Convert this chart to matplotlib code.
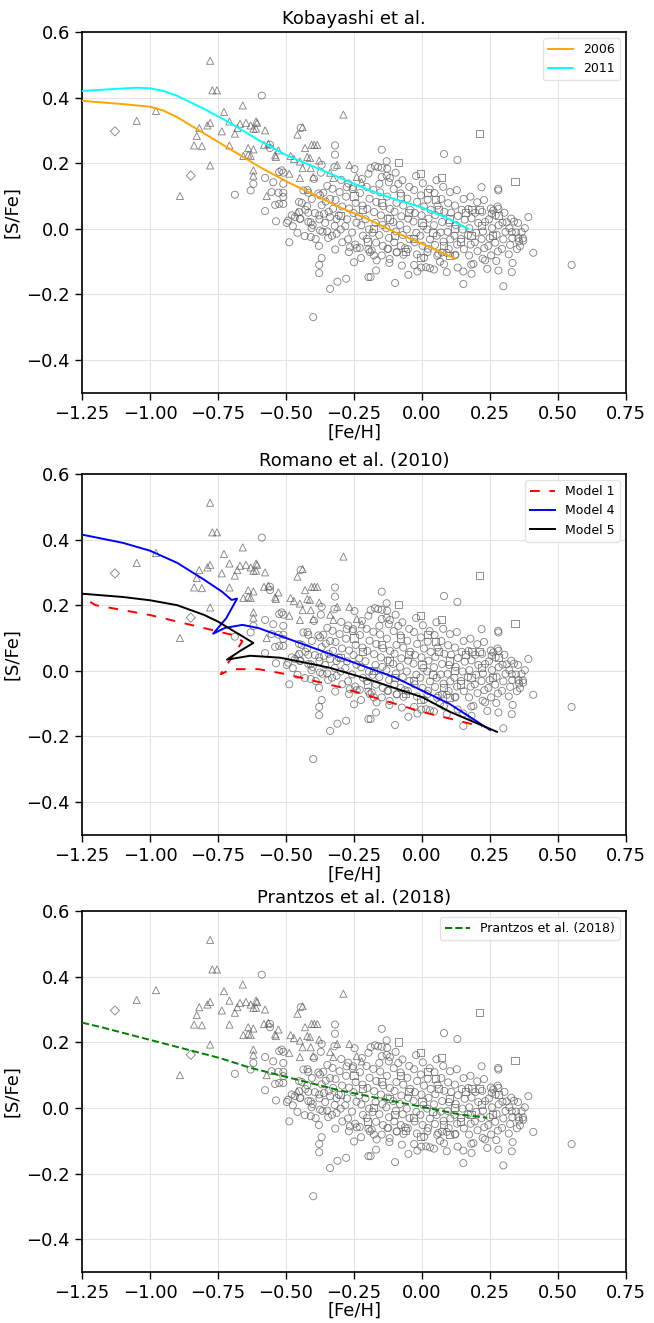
import matplotlib
matplotlib.use("Agg")
import matplotlib.pyplot as plt

# ---------------- data ----------------
triangles_x = [-0.779,-0.771,-0.754,-0.978,-1.049,-0.779,-0.789,-0.819,-0.828,-0.838,-0.809,-0.779,-0.89,-0.659,-0.728,-0.708,-0.669,-0.647,-0.630,-0.610,-0.606,-0.679,-0.620,-0.610,-0.577,-0.736,-0.688,-0.439,-0.458,-0.708,-0.581,-0.565,-0.639,-0.620,-0.528,-0.430,-0.406,-0.396,-0.385,-0.657,-0.639,-0.630,-0.540,-0.537,-0.483,-0.471,-0.422,-0.412,-0.449,-0.439,-0.409,-0.378,-0.312,-0.620,-0.620,-0.488,-0.449,-0.400,-0.338,-0.326,-0.289,-0.267,-0.240,-0.222,-0.571,-0.459]
triangles_y = [0.512,0.422,0.422,0.359,0.329,0.323,0.315,0.307,0.283,0.254,0.252,0.193,0.10,0.376,0.356,0.327,0.320,0.323,0.315,0.327,0.323,0.307,0.305,0.305,0.300,0.297,0.290,0.310,0.287,0.254,0.256,0.259,0.246,0.242,0.239,0.246,0.256,0.256,0.256,0.222,0.226,0.222,0.224,0.219,0.222,0.213,0.219,0.216,0.205,0.185,0.185,0.208,0.195,0.178,0.162,0.168,0.155,0.158,0.171,0.155,0.348,0.195,0.158,0.142,0.100,0.051]

diamonds_x = [-1.129, -0.850]
diamonds_y = [0.297, 0.162]

squares_x = [-0.087,-0.007,0.072,0.211,0.342,-0.007,0.182,0.211,0.281,-0.30,-0.25,-0.22,-0.18,-0.15,-0.12,-0.10,-0.08,-0.05,-0.03,0.0,0.02,0.04,0.06,0.08,0.10,0.12,0.14,0.16,0.18,0.22,0.26,0.10,-0.20,0.05,-0.06]
squares_y = [0.201,0.168,0.155,0.290,0.144,-0.086,0.059,0.059,0.041,0.04,0.10,0.06,0.0,0.08,0.03,-0.02,0.10,0.05,-0.03,0.02,0.11,-0.01,0.06,-0.05,0.03,0.0,-0.04,0.05,-0.02,0.01,-0.02,-0.08,-0.04,0.09,-0.07]

circles_sparse = [(-0.589,0.406),(-0.446,0.307),(-0.559,0.256),(-0.320,0.254),(-0.559,0.246),(-0.320,0.226),(-0.369,0.195),(-0.525,0.173),(-0.516,0.178),(-0.510,0.171),(-0.577,0.155),(-0.620,0.137),(-0.547,0.142),(-0.510,0.137),(-0.148,0.241),(0.081,0.228),(0.130,0.210),(-0.130,0.206),(-0.189,0.185),(-0.161,0.188),(-0.148,0.186),(-0.128,0.183),(-0.130,0.162),(-0.118,0.155),(-0.087,0.137),(-0.277,0.127),(-0.253,0.127),(-0.157,0.137),(0.219,0.127),(0.280,0.122),(-0.688,0.104),(-0.577,0.054),(-0.537,0.023),(-0.488,-0.041),(-0.369,-0.089),(-0.378,-0.110),(-0.378,-0.135),(-0.311,-0.161),(-0.338,-0.183),(-0.400,-0.269),(-0.630,0.117),(-0.553,0.112),(-0.528,0.110),(-0.510,0.110),(-0.510,0.097),(-0.540,0.073),(-0.525,0.076),(-0.510,0.076),(-0.479,0.041),(-0.467,0.036),(-0.492,0.025),(-0.497,0.018),(-0.475,0.008),(-0.449,0.030),(-0.451,0.051),(-0.442,0.079),(-0.422,0.069),(-0.418,0.049),(-0.409,0.020),(-0.406,0.002),(-0.409,-0.025),(-0.375,-0.005),(-0.348,-0.008),(-0.378,0.041),(-0.360,0.046),(-0.338,0.036),(-0.314,0.030),(-0.338,0.091),(-0.375,0.102),(-0.363,0.110),(-0.418,0.110),(-0.436,0.117),(-0.314,-0.015),(-0.250,-0.102),(-0.279,-0.152),(-0.197,-0.147),(-0.189,-0.147),(-0.099,-0.165),(-0.169,-0.127),(-0.120,-0.104),(-0.050,-0.140),(-0.017,-0.130),(-0.029,-0.110),(0.015,-0.117),(0.029,-0.120),(0.044,-0.124),(0.091,-0.132),(0.066,-0.100),(-0.167,-0.096),(-0.148,-0.081),(-0.265,-0.056),(-0.240,-0.059),(-0.197,-0.063),(-0.185,-0.066),(-0.124,-0.061),(-0.093,-0.071),(-0.063,-0.059),(0.020,-0.071),(0.060,-0.076),(0.091,-0.073),(0.121,-0.081),(0.550,-0.110),(0.409,-0.073),(0.391,0.036),(0.299,-0.175),(0.330,-0.132),(0.333,-0.104),(0.281,-0.127),(0.240,-0.122),(0.232,-0.096),(0.182,-0.137),(0.152,-0.168),(0.152,-0.130),(0.189,-0.107),(0.372,-0.036),(0.360,-0.053),(0.366,-0.010),(0.354,-0.028),(0.338,0.022),(0.311,0.020),(0.330,-0.010),(0.281,0.061),(0.281,0.117),(0.262,0.056),(0.256,0.046)]

circles_dense = [(-0.452,0.082),(-0.447,0.031),(-0.458,-0.012),
(-0.421,0.118),(-0.429,0.058),(-0.418,0.021),(-0.431,-0.022),
(-0.397,0.152),(-0.405,0.091),(-0.394,0.048),(-0.402,0.012),(-0.391,-0.031),
(-0.372,0.171),(-0.381,0.108),(-0.369,0.072),(-0.377,0.029),(-0.366,-0.009),(-0.379,-0.052),
(-0.348,0.131),(-0.354,0.083),(-0.343,0.052),(-0.356,0.018),(-0.345,-0.028),
(-0.322,0.188),(-0.329,0.122),(-0.318,0.088),(-0.327,0.061),(-0.321,0.009),(-0.331,-0.021),(-0.319,-0.063),
(-0.297,0.149),(-0.303,0.112),(-0.294,0.068),(-0.306,0.041),(-0.299,-0.002),(-0.293,-0.041),
(-0.271,0.138),(-0.279,0.098),(-0.268,0.062),(-0.276,0.029),(-0.282,0.008),(-0.272,-0.032),(-0.269,-0.071),
(-0.248,0.182),(-0.255,0.121),(-0.244,0.079),(-0.252,0.048),(-0.241,0.019),(-0.257,-0.011),(-0.246,-0.048),
(-0.221,0.152),(-0.228,0.109),(-0.219,0.071),(-0.231,0.038),(-0.223,0.011),(-0.217,-0.021),(-0.229,-0.058),(-0.224,-0.089),
(-0.197,0.168),(-0.204,0.128),(-0.193,0.092),(-0.201,0.061),(-0.208,0.029),(-0.195,-0.002),(-0.203,-0.031),(-0.192,-0.071),
(-0.173,0.191),(-0.179,0.119),(-0.168,0.082),(-0.176,0.051),(-0.171,0.018),(-0.182,-0.012),(-0.169,-0.042),(-0.177,-0.081),
(-0.148,0.158),(-0.154,0.111),(-0.143,0.069),(-0.151,0.041),(-0.146,0.012),(-0.157,-0.019),(-0.144,-0.052),
(-0.122,0.142),(-0.129,0.098),(-0.118,0.061),(-0.126,0.032),(-0.131,0.002),(-0.121,-0.028),(-0.127,-0.061),(-0.119,-0.092),
(-0.097,0.171),(-0.104,0.121),(-0.094,0.079),(-0.101,0.052),(-0.106,0.021),(-0.096,-0.008),(-0.102,-0.041),(-0.093,-0.072),
(-0.072,0.148),(-0.079,0.108),(-0.069,0.071),(-0.076,0.038),(-0.081,0.012),(-0.071,-0.019),(-0.078,-0.052),(-0.068,-0.079),(-0.074,-0.112),
(-0.047,0.128),(-0.054,0.092),(-0.043,0.058),(-0.051,0.031),(-0.056,-0.002),(-0.046,-0.031),(-0.052,-0.062),
(-0.022,0.161),(-0.029,0.118),(-0.018,0.082),(-0.026,0.048),(-0.031,0.022),(-0.021,-0.012),(-0.027,-0.041),(-0.019,-0.078),
(0.003,0.139),(-0.004,0.102),(0.007,0.068),(-0.002,0.041),(0.005,0.009),(-0.006,-0.021),(0.002,-0.052),(0.008,-0.088),(-0.003,-0.118),
(0.028,0.121),(0.021,0.089),(0.032,0.058),(0.024,0.031),(0.019,-0.002),(0.029,-0.032),(0.022,-0.061),
(0.053,0.148),(0.046,0.109),(0.057,0.071),(0.049,0.042),(0.044,0.011),(0.054,-0.021),(0.048,-0.049),(0.056,-0.082),
(0.078,0.128),(0.071,0.091),(0.082,0.052),(0.074,0.021),(0.069,-0.011),(0.079,-0.039),(0.073,-0.072),(0.081,-0.108),
(0.103,0.112),(0.096,0.078),(0.107,0.049),(0.099,0.018),(0.094,-0.009),(0.104,-0.032),(0.098,-0.061),
(0.128,0.118),(0.121,0.071),(0.132,0.039),(0.124,0.012),(0.119,-0.021),(0.129,-0.048),(0.123,-0.079),(0.131,-0.118),
(0.153,0.091),(0.146,0.058),(0.157,0.028),(0.149,-0.002),(0.144,-0.031),(0.154,-0.062),
(0.178,0.098),(0.171,0.061),(0.182,0.032),(0.174,0.002),(0.169,-0.019),(0.179,-0.048),(0.173,-0.081),(0.181,-0.109),
(0.203,0.081),(0.196,0.049),(0.207,0.018),(0.199,-0.012),(0.194,-0.041),(0.204,-0.068),
(0.228,0.088),(0.221,0.052),(0.232,0.021),(0.224,-0.008),(0.219,-0.031),(0.229,-0.059),(0.223,-0.091),
(0.253,0.062),(0.246,0.029),(0.257,0.002),(0.249,-0.028),(0.244,-0.052),(0.254,-0.081),
(0.278,0.068),(0.271,0.041),(0.282,0.011),(0.274,-0.018),(0.269,-0.042),(0.279,-0.069),(0.273,-0.098),
(0.303,0.049),(0.296,0.019),(0.307,-0.009),(0.299,-0.032),(0.294,-0.061),
(0.328,0.031),(0.321,0.002),(0.332,-0.028),(0.324,-0.049),(0.319,-0.078),
(0.353,0.018),(0.346,-0.011),(0.357,-0.038),(0.349,-0.062),
(0.378,0.002),(0.371,-0.029)]

circles_x = [p[0] for p in circles_sparse + circles_dense]
circles_y = [p[1] for p in circles_sparse + circles_dense]

# Kobayashi models
kob2006_x = [-1.25,-1.1,-1.0,-0.95,-0.9,-0.8,-0.7,-0.6,-0.5,-0.4,-0.3,-0.2,-0.1,0.0,0.12]
kob2006_y = [0.39,0.38,0.372,0.36,0.34,0.29,0.24,0.19,0.145,0.105,0.065,0.03,-0.01,-0.045,-0.09]
kob2011_x = [-1.25,-1.15,-1.05,-1.0,-0.95,-0.9,-0.85,-0.8,-0.7,-0.6,-0.5,-0.4,-0.3,-0.2,-0.1,0.0,0.1,0.17]
kob2011_y = [0.42,0.425,0.43,0.428,0.42,0.405,0.385,0.365,0.32,0.27,0.225,0.19,0.155,0.12,0.09,0.065,0.03,0.0]

# Romano models
m1_x = [-1.22,-1.2,-1.1,-1.0,-0.9,-0.8,-0.7,-0.66,-0.70,-0.74,-0.70,-0.6,-0.5,-0.4,-0.3,-0.2,-0.1,0.0,0.1,0.22]
m1_y = [0.21,0.20,0.185,0.17,0.15,0.13,0.11,0.09,0.04,-0.01,0.005,0.005,-0.01,-0.03,-0.05,-0.075,-0.10,-0.125,-0.145,-0.17]
m4_x = [-1.25,-1.1,-1.0,-0.9,-0.8,-0.735,-0.70,-0.68,-0.72,-0.768,-0.724,-0.66,-0.60,-0.5,-0.4,-0.3,-0.2,-0.1,0.0,0.1,0.25]
m4_y = [0.415,0.39,0.366,0.329,0.277,0.241,0.216,0.22,0.16,0.113,0.131,0.14,0.13,0.10,0.07,0.04,0.01,-0.02,-0.06,-0.10,-0.18]
m5_x = [-1.25,-1.1,-1.0,-0.9,-0.8,-0.75,-0.7,-0.65,-0.62,-0.67,-0.717,-0.632,-0.522,-0.4,-0.338,-0.2,-0.081,0.0,0.103,0.276]
m5_y = [0.235,0.225,0.215,0.20,0.17,0.15,0.125,0.10,0.085,0.06,0.034,0.046,0.040,0.02,0.009,-0.025,-0.058,-0.08,-0.125,-0.186]

# Prantzos model
pr_x = [-1.25,-1.184,-0.743,-0.63,-0.314,-0.30,0.14,0.24]
pr_y = [0.26,0.247,0.152,0.122,0.056,0.053,-0.02,-0.03]

# ---------------- plotting ----------------
fig = plt.figure(figsize=(6.54, 13.23), dpi=100)
left, width, height = 0.1254, 0.8318, 0.2729
bottoms = [0.7030, 0.3689, 0.0385]
titles = ["Kobayashi et al.", "Romano et al. (2010)", "Prantzos et al. (2018)"]

def draw_obs(ax):
    kw = dict(facecolors='none', edgecolors='#606060', linewidths=0.65, alpha=0.75, s=26, zorder=2)
    ax.scatter(circles_x, circles_y, marker='o', **kw)
    ax.scatter(squares_x, squares_y, marker='s', **kw)
    ax.scatter(triangles_x, triangles_y, marker='^', **kw)
    ax.scatter(diamonds_x, diamonds_y, marker='D', **dict(kw, s=22))

axes = []
for i, (b, t) in enumerate(zip(bottoms, titles)):
    ax = fig.add_axes([left, b, width, height])
    ax.set_xlim(-1.25, 0.75)
    ax.set_ylim(-0.5, 0.6)
    ax.set_xticks([-1.25,-1.0,-0.75,-0.5,-0.25,0.0,0.25,0.5,0.75])
    ax.set_xticklabels(["\u22121.25","\u22121.00","\u22120.75","\u22120.50","\u22120.25","0.00","0.25","0.50","0.75"])
    ax.set_yticks([-0.4,-0.2,0.0,0.2,0.4,0.6])
    ax.set_yticklabels(["\u22120.4","\u22120.2","0.0","0.2","0.4","0.6"])
    ax.tick_params(labelsize=13, direction='out', length=5, width=1)
    ax.grid(True, color='#e3e3e3', linewidth=0.8, zorder=0)
    ax.set_axisbelow(True)
    for sp in ax.spines.values():
        sp.set_linewidth(1.2)
    ax.set_xlabel("[Fe/H]", fontsize=13, labelpad=(1 if i < 2 else 0))
    ax.set_ylabel("[S/Fe]", fontsize=13)
    ax.set_title(t, fontsize=13, pad=6)
    draw_obs(ax)
    axes.append(ax)

ax1, ax2, ax3 = axes
ax1.plot(kob2006_x, kob2006_y, color='orange', lw=1.4, label='2006', zorder=3)
ax1.plot(kob2011_x, kob2011_y, color='cyan', lw=1.4, label='2011', zorder=3)
ax1.legend(loc='upper right', fontsize=9, framealpha=0.8, edgecolor='#dddddd')

ax2.plot(m1_x, m1_y, color='red', lw=1.4, ls=(0, (5, 5)), label='Model 1', zorder=3)
ax2.plot(m4_x, m4_y, color='blue', lw=1.4, label='Model 4', zorder=3)
ax2.plot(m5_x, m5_y, color='black', lw=1.4, label='Model 5', zorder=3)
ax2.legend(loc='upper right', fontsize=9, framealpha=0.8, edgecolor='#dddddd')

ax3.plot(pr_x, pr_y, color='green', lw=1.4, ls='--', label='Prantzos et al. (2018)', zorder=3)
ax3.legend(loc='upper right', fontsize=9, framealpha=0.8, edgecolor='#dddddd')

fig.savefig("out.png", dpi=100)
